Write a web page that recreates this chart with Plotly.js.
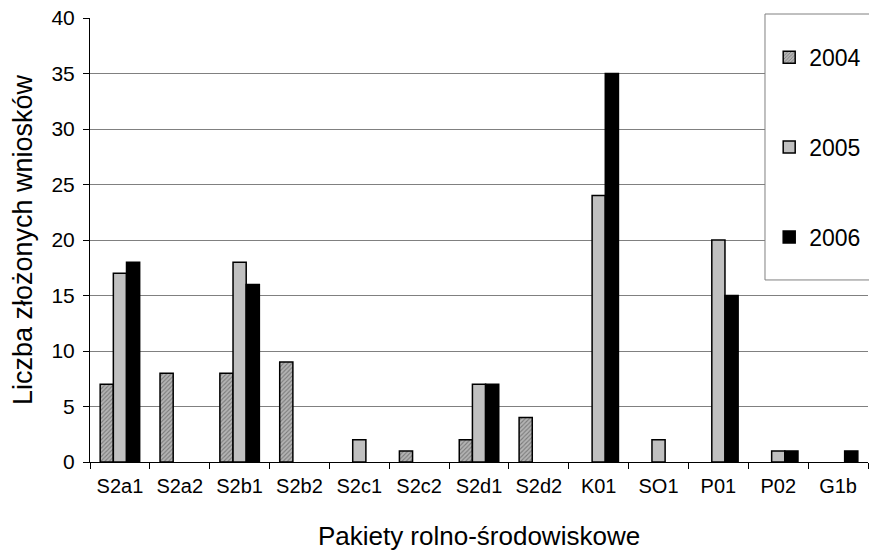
<!DOCTYPE html>
<html><head><meta charset="utf-8">
<script src="https://cdn.plot.ly/plotly-3.0.1.min.js"></script>
<style>html,body{margin:0;padding:0;background:#fff}#chart{width:869px;height:553px}</style>
</head><body><div id="chart"></div>
<script>
const categories = ["S2a1","S2a2","S2b1","S2b2","S2c1","S2c2","S2d1","S2d2","K01","SO1","P01","P02","G1b"];
const v2004 = [7,8,8,9,0,1,2,4,0,0,0,0,0];
const v2005 = [17,0,18,0,2,0,7,0,24,2,20,1,0];
const v2006 = [18,0,16,0,0,0,7,0,35,0,15,1,1];
const seriesNames = ["2004","2005","2006"];

const outline = vals => ({color:"#000", width: vals.map(v => v === 0 ? 0 : 1.5)});
const traces = [
  {type:"bar", name:seriesNames[0], x:categories, y:v2004, legendgroup:"a",
   marker:{color:"#a0a0a0", line:outline(v2004), pattern:{shape:"/", fgcolor:"#7a7a7a", bgcolor:"#b4b4b4", size:3, solidity:0.35}}},
  {type:"bar", name:seriesNames[1], x:categories, y:v2005, legendgroup:"b",
   marker:{color:"#c0c0c0", line:outline(v2005)}},
  {type:"bar", name:seriesNames[2], x:categories, y:v2006, legendgroup:"c",
   marker:{color:"#000000", line:outline(v2006)}}
];
const font = {family:"Liberation Sans, Arial, sans-serif", color:"#000"};
const layout = {
  width:869, height:553,
  margin:{l:90, r:1, t:18, b:91},
  paper_bgcolor:"#fff", plot_bgcolor:"#fff",
  font:font,
  barmode:"group", bargap:0.34, bargroupgap:0,
  showlegend:true,
  legend:{x:0.873, y:0.96, xanchor:"left", yanchor:"top",
    bgcolor:"rgba(0,0,0,0)", borderwidth:0,
    font:{family:font.family, size:23, color:"#000"},
    tracegroupgap:57, itemwidth:30},
  shapes:[{type:"rect", xref:"paper", yref:"paper", x0:0.8676, x1:1.01, y0:0.41, y1:1.009,
    line:{color:"#808080", width:1}, fillcolor:"#fff", layer:"above"}],
  xaxis:{type:"category", tickson:"boundaries", ticks:"outside", ticklen:6, tickcolor:"#000",
    ticklabelstandoff:6,
    showline:true, linecolor:"#000", linewidth:1, showgrid:false,
    tickfont:{size:20}, title:{text:"Pakiety rolno-środowiskowe", font:{size:26}, standoff:30}},
  yaxis:{range:[0,40], dtick:5, ticks:"outside", ticklen:6, tickcolor:"#000",
    ticklabelstandoff:4,
    showline:true, linecolor:"#000", linewidth:1,
    showgrid:true, gridcolor:"#808080", gridwidth:1, zeroline:false,
    tickfont:{size:21}, title:{text:"Liczba złożonych wniosków", font:{size:27}, standoff:10}}
};
Plotly.newPlot("chart", traces, layout, {displayModeBar:false});
</script></body></html>
